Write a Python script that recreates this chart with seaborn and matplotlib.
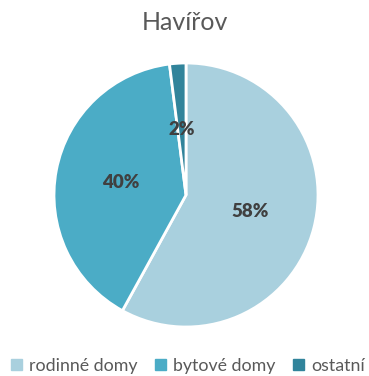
import matplotlib
matplotlib.use("Agg")
import matplotlib.pyplot as plt
import seaborn as sns

title = "Havířov"
categories = ["rodinné domy", "bytové domy", "ostatní"]
values = [58, 40, 2]
colors = ["#A9D0DE", "#4BACC6", "#31849B"]

sns.set_theme(style="white")
plt.rcParams['font.family'] = ['Lato', 'DejaVu Sans']

fig = plt.figure(figsize=(3.69, 3.76), dpi=100)
cx, cy, r = 186 / 369, 1 - 195 / 376, 132
ax = fig.add_axes([cx - r / 369, cy - r / 376, 2 * r / 369, 2 * r / 376])
wedges, texts, autotexts = ax.pie(
    values, colors=colors, startangle=90, counterclock=False,
    autopct=lambda p: f"{p:.0f}%", pctdistance=0.5,
    wedgeprops=dict(edgecolor="white", linewidth=2),
    textprops=dict(color="#404040", fontsize=13.5, fontweight="heavy"))
ax.set_aspect("equal")
ax.set_xlim(-1, 1)
ax.set_ylim(-1, 1)

fig.text(0.5, 1 - 22 / 376, title, ha="center", va="center", fontsize=18, color="#595959")

handles = [plt.Rectangle((0, 0), 1, 1, color=c) for c in colors]
fig.legend(handles, categories, loc="center", bbox_to_anchor=(0.51, 1 - 366 / 376),
           ncol=3, frameon=False, fontsize=12.8, labelcolor="#595959",
           handlelength=0.6, handleheight=0.6, handletextpad=0.4, columnspacing=1.0)

fig.savefig("out.png", dpi=100)
